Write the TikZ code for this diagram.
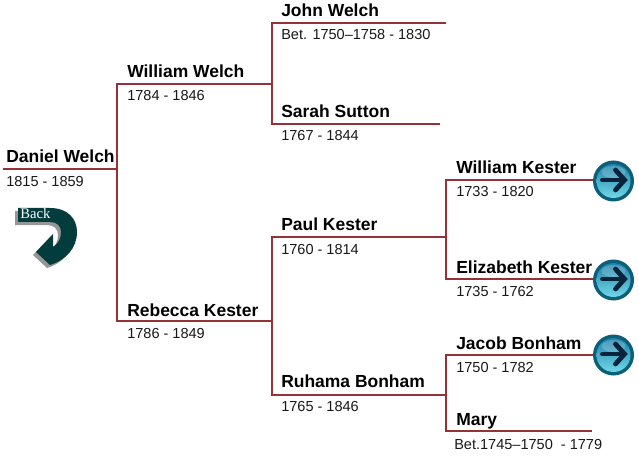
\documentclass[tikz,border=0pt]{standalone}
\usepackage{fontspec}
\setmainfont{Liberation Sans}
\newfontfamily\backfont{Liberation Serif}
\usetikzlibrary{shadings}
\definecolor{linered}{RGB}{150,50,55}
\definecolor{backteal}{RGB}{2,60,60}
\definecolor{backgrey}{RGB}{150,150,150}
\definecolor{btnout}{RGB}{12,95,120}
\definecolor{btntop}{RGB}{30,130,170}
\definecolor{btnbot}{RGB}{115,215,230}
\definecolor{arrowdark}{RGB}{8,35,60}
\tikzset{
  x=0.75pt,y=-0.75pt,
  person/.style={font=\fontsize{13.1}{15}\selectfont\bfseries,anchor=base west,inner sep=0pt,text=black},
  dates/.style={font=\fontsize{10.9}{13}\selectfont,anchor=base west,inner sep=0pt,text=black!90},
  tree/.style={draw=linered,line width=0.9pt},
  backshape/.pic={\fill[pic actions] (18,208) -- (50,208) .. controls (68,208) and (77,219) .. (77,232) .. controls (77,248) and (66,260) .. (50,265) -- (36,252) -- (53,234) -- (53,247) .. controls (58,244) and (61,239) .. (61,232) .. controls (61,226) and (57,222) .. (50,222) -- (18,222) -- cycle;},
}
\newcommand{\gobtn}[2]{%
  \fill[btnout] (#1,#2) circle[radius=20.5];
  \shade[top color=btntop,bottom color=btnbot] (#1,#2) circle[radius=17];
  \fill[white,opacity=0.2] (#1,#2-9) ellipse[x radius=12,y radius=6];
  \draw[arrowdark,line width=3.6pt,line cap=round] (#1-11,#2-1) -- (#1+10,#2-1);
  \draw[arrowdark,line width=3.6pt,line cap=round,line join=miter] (#1+2,#2-11) -- (#1+11,#2-1) -- (#1+2,#2+9);
}
\begin{document}
\begin{tikzpicture}
\useasboundingbox (0,0) rectangle (639,456);
\fill[white] (0,0) rectangle (639,456);
% line anchors
\coordinate (dL) at (3,169);   \coordinate (dR) at (117,169);
\coordinate (wL) at (117,84);  \coordinate (wR) at (272,84);
\coordinate (rL) at (117,321); \coordinate (rR) at (272,321);
\coordinate (jL) at (272,23);  \coordinate (jR) at (446,23);
\coordinate (sL) at (272,124); \coordinate (sR) at (440,124);
\coordinate (pL) at (272,237); \coordinate (pR) at (446,237);
\coordinate (uL) at (272,395); \coordinate (uR) at (446,395);
\coordinate (kL) at (446,180); \coordinate (kR) at (594,180);
\coordinate (eL) at (446,279); \coordinate (eR) at (594,279);
\coordinate (bL) at (446,355); \coordinate (bR) at (594,355);
\coordinate (mL) at (446,431); \coordinate (mR) at (592,431);
\draw[tree] (dL) -- (dR);
\draw[tree] (rR) -- (rL) -- (wL) -- (wR);
\draw[tree] (sR) -- (sL) -- (jL) -- (jR);
\draw[tree] (uR) -- (uL) -- (pL) -- (pR);
\draw[tree] (eR) -- (eL) -- (kL) -- (kR);
\draw[tree] (mR) -- (mL) -- (bL) -- (bR);
% names and dates
\node[person] (n1) at (6,163) {Daniel Welch};
\node[dates] (d1) at (6,186) {1815 - 1859};
\node[person] (n2) at (127,78) {William Welch};
\node[dates] (d2) at (127,101) {1784 - 1846};
\node[person] (n3) at (127,316) {Rebecca Kester};
\node[dates] (d3) at (127,338) {1786 - 1849};
\node[person] (n4) at (281,17) {John Welch};
\node[dates] (d4) at (281,40) {Bet. 1750–1758 - 1830};
\node[person] (n5) at (281,118) {Sarah Sutton};
\node[dates] (d5) at (281,141) {1767 - 1844};
\node[person] (n6) at (281,230) {Paul Kester};
\node[dates] (d6) at (281,254) {1760 - 1814};
\node[person] (n7) at (281,387) {Ruhama Bonham};
\node[dates] (d7) at (281,411) {1765 - 1846};
\node[person] (n8) at (456,174) {William Kester};
\node[dates] (d8) at (456,197) {1733 - 1820};
\node[person] (n9) at (456,273) {Elizabeth Kester};
\node[dates] (d9) at (456,296) {1735 - 1762};
\node[person] (n10) at (456,349) {Jacob Bonham};
\node[dates] (d10) at (456,372) {1750 - 1782};
\node[person] (n11) at (456,425) {Mary};
\node[dates] (d11) at (454,449) {Bet.1745–1750 \ - 1779};
% buttons
\gobtn{613.5}{181}
\gobtn{613.5}{280}
\gobtn{613.5}{355}
% back arrow
\pic[fill=backgrey] at (-3,3) {backshape};
\pic[fill=backteal] at (0,0) {backshape};
\node[font=\backfont\fontsize{11}{12}\selectfont,text=white,anchor=base west,inner sep=0pt] (back) at (20,219) {Back};
\end{tikzpicture}
\end{document}
